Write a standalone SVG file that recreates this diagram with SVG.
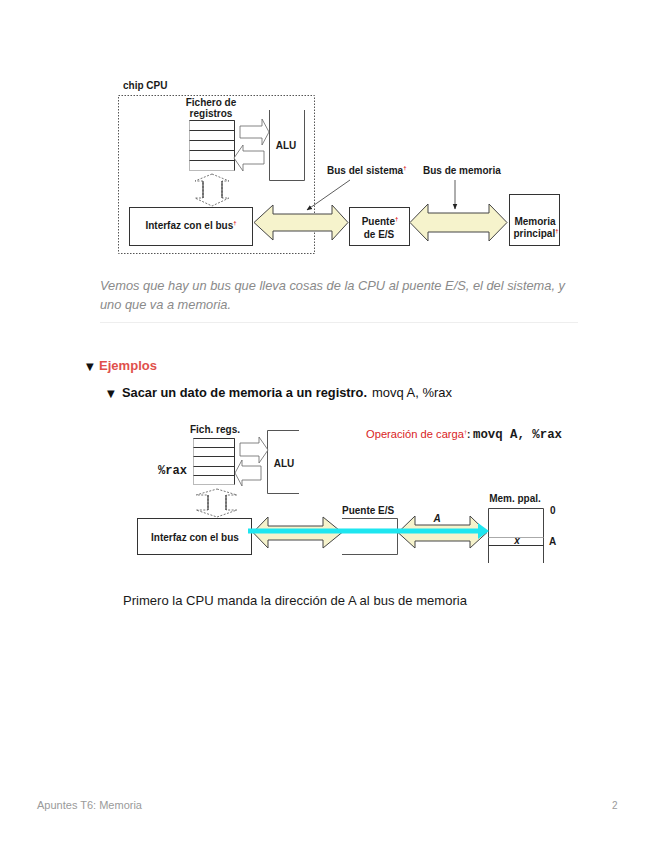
<svg xmlns="http://www.w3.org/2000/svg" width="655" height="848" viewBox="0 0 655 848">
<style>
.lb{font-family:"Liberation Sans",Arial,sans-serif;font-weight:bold;font-size:10px;fill:#1a1a1a}
.mid{text-anchor:middle}
.red{fill:#e02020}
.sup{font-size:6px;fill:#e02020}
.mono{font-family:"Liberation Mono","Courier New",monospace;font-weight:bold;font-size:12px;fill:#1a1a1a}
.box{fill:#fff;stroke:#333;stroke-width:1}
.lbox{fill:none;stroke:#555;stroke-width:1}
.thin{fill:#fff;stroke:#666;stroke-width:0.8}
.big{fill:#f6f3cc;stroke:#444;stroke-width:1}
.page{font-family:"Liberation Sans",Arial,sans-serif}
</style>
<defs>
<marker id="ah" viewBox="0 0 10 10" refX="9" refY="5" markerWidth="7" markerHeight="7" orient="auto">
<path d="M0,1 L10,5 L0,9 z" fill="#222"/>
</marker>
</defs>
<rect width="655" height="848" fill="#fff"/>

<!-- Diagram 1 -->
<g id="chip">
<rect x="118.5" y="95.5" width="196" height="158" fill="none" stroke="#555" stroke-width="1" stroke-dasharray="1.5,1.5"/>
<text class="lb" x="123" y="89" font-size="9.5">chip CPU</text>
</g>
<g id="regfile1">
<text class="lb mid" x="211" y="106" font-size="9.5">Fichero de</text>
<text class="lb mid" x="211" y="117" font-size="9.5">registros</text>
<rect x="189.5" y="120.5" width="45" height="50" fill="#fff" stroke="#aaa" stroke-width="0.8"/>
<path d="M189.5 120.5H234.5M189.5 130.5H234.5M189.5 140.5H234.5M189.5 150.5H234.5M189.5 160.5H234.5M234.5 120.5V170.5" stroke="#333" stroke-width="1" fill="none"/>
</g>
<g id="alu1">
<path d="M269.5 110V180.5H304.5V110" class="lbox"/>
<text class="lb mid" x="286" y="149">ALU</text>
</g>
<g id="interfaz1">
<rect x="129.5" y="207.5" width="123" height="38" class="box" stroke="#555"/>
<text class="lb mid" x="191" y="229" font-size="10.5">Interfaz con el bus<tspan class="sup" dy="-4">†</tspan></text>
</g>
<g id="puente1">
<rect x="349.5" y="207.5" width="60" height="38" class="box"/>
<text class="lb mid" x="380" y="225">Puente<tspan class="sup" dy="-4">†</tspan></text>
<text class="lb mid" x="379" y="238">de E/S</text>
</g>
<g id="memoria1">
<rect x="509.5" y="194.5" width="50" height="51" class="box"/>
<text class="lb mid" x="535" y="225">Memoria</text>
<text class="lb mid" x="536" y="237">principal<tspan class="sup" dy="-4">†</tspan></text>
</g>
<g id="labels1">
<text class="lb" x="327" y="174">Bus del sistema<tspan class="sup" dy="-4">†</tspan></text>
<text class="lb" x="423" y="174">Bus de memoria</text>
</g>
<g id="connectors1">
<polygon class="thin" points="240,126 262,126 262,119 269,132 262,145 262,138 240,138"/>
<polygon class="thin" points="264,151 243,151 243,145 234,158 243,171 243,164 264,164"/>
<polygon points="212,174 229,181 222,181 222,198 229,198 212,206 195,198 203,198 203,181 195,181" fill="#fff" stroke="#555" stroke-width="0.8" stroke-dasharray="2,1.5"/>
<path d="M203 181V198M222 181V198" stroke="#222" stroke-width="1"/>
<polygon class="big" points="254,222.5 273,205 273,214 332,214 332,205 348,222.5 332,240 332,231 273,231 273,240"/>
<polygon class="big" points="410,222.5 428,204 428,213 489,213 489,204 507,222.5 489,241 489,232 428,232 428,241"/>
<line x1="350" y1="180" x2="307" y2="210" stroke="#333" stroke-width="0.8" marker-end="url(#ah)"/>
<line x1="455" y1="180" x2="455" y2="209" stroke="#333" stroke-width="0.8" marker-end="url(#ah)"/>
</g>

<!-- Page text -->
<g class="page">
<text x="100" y="290" font-size="13" font-style="italic" fill="#8a8a8a" textLength="465" lengthAdjust="spacingAndGlyphs">Vemos que hay un bus que lleva cosas de la CPU al puente E/S, el del sistema, y</text>
<text x="100" y="309" font-size="13" font-style="italic" fill="#8a8a8a" textLength="131" lengthAdjust="spacingAndGlyphs">uno que va a memoria.</text>
<line x1="100" y1="322.5" x2="578" y2="322.5" stroke="#eeeeee" stroke-width="1"/>
<text x="86" y="370" font-family="DejaVu Sans,sans-serif" font-size="10" fill="#111">▼</text>
<text x="99" y="370" font-size="13" font-weight="bold" fill="#e0504c" textLength="58" lengthAdjust="spacingAndGlyphs">Ejemplos</text>
<text x="107" y="397" font-family="DejaVu Sans,sans-serif" font-size="10" fill="#111">▼</text>
<text x="122" y="397" font-size="13" fill="#111"><tspan font-weight="bold" textLength="245" lengthAdjust="spacingAndGlyphs">Sacar un dato de memoria a un registro.</tspan><tspan x="372" textLength="80" lengthAdjust="spacingAndGlyphs">movq A, %rax</tspan></text>
<text x="123" y="605" font-size="13" fill="#1a1a1a" textLength="344" lengthAdjust="spacingAndGlyphs">Primero la CPU manda la dirección de A al bus de memoria</text>
<text x="37" y="809" font-size="10" fill="#9a9a9a" textLength="105" lengthAdjust="spacingAndGlyphs">Apuntes T6: Memoria</text>
<text x="612" y="809" font-size="10" fill="#9a9a9a">2</text>
</g>

<!-- Diagram 2 -->
<g id="op2">
<text x="366" y="438" font-family="Liberation Sans,Arial,sans-serif" font-size="11" fill="#d81e1e" textLength="98" lengthAdjust="spacingAndGlyphs">Operación de carga</text>
<text x="464" y="434" class="sup">†</text>
<text x="467" y="438" class="lb">:</text>
<text x="473" y="438" class="mono" textLength="89" lengthAdjust="spacingAndGlyphs">movq A, %rax</text>
</g>
<g id="regfile2">
<text class="lb mid" x="215" y="433">Fich. regs.</text>
<rect x="193.5" y="438.5" width="41" height="46" fill="#fff" stroke="#aaa" stroke-width="0.8"/>
<path d="M193.5 438.5H234.5M193.5 447.5H234.5M193.5 456.5H234.5M193.5 466.5H234.5M193.5 475.5H234.5M234.5 438.5V484.5" stroke="#333" stroke-width="1" fill="none"/>
<text class="mono" x="158" y="474" font-size="11.5" fill="#333" textLength="29" lengthAdjust="spacingAndGlyphs">%rax</text>
</g>
<g id="alu2">
<path d="M299 430.5H267.5V493.5H299" class="lbox"/>
<text class="lb mid" x="284" y="467">ALU</text>
</g>
<g id="interfaz2">
<rect x="137.5" y="518.5" width="114" height="36" class="box" stroke="#555"/>
<text class="lb mid" x="195" y="541" font-size="10.5">Interfaz con el bus</text>
</g>
<g id="puente2">
<text class="lb" x="342" y="514" font-size="10.3">Puente E/S</text>
<path d="M342 518.5H397.5V554.5H342" class="lbox" stroke="#444"/>
</g>
<g id="mem2">
<text class="lb mid" x="515" y="502" font-size="11">Mem. ppal.</text>
<path d="M488.5 563V508.5H543.5V563" fill="none" stroke="#444" stroke-width="1"/>
<path d="M488.5 537.5H543.5" stroke="#aaa" stroke-width="1"/>
<path d="M488.5 545.5H543.5" stroke="#333" stroke-width="1"/>
<text class="lb" x="550" y="514" font-size="10.5">0</text>
<text class="lb" x="549" y="545" font-size="10.5">A</text>
<text class="lb mid" x="517" y="544" font-style="italic" font-size="8.5">x</text>
</g>
<g id="connectors2">
<polygon class="thin" points="240,443 259,443 259,437 268,450 259,463 259,456 240,456"/>
<polygon class="thin" points="261,466 242,466 242,460 235,473 242,486 242,480 261,480"/>
<polygon points="217,489 237,495 226,495 226,510 237,510 217,517 196,510 208,510 208,495 196,495" fill="#fff" stroke="#555" stroke-width="0.8" stroke-dasharray="2,1.5"/>
<path d="M208 495V510M226 495V510" stroke="#222" stroke-width="1"/>
<polygon class="big" points="253,532.5 268,517 268,526 323,526 323,517 342,532.5 323,548 323,540 268,540 268,548"/>
<polygon class="big" points="398,532.5 415,516 415,525 470,525 470,516 487,532.5 470,548 470,541 415,541 415,548"/>
<text class="lb mid" x="437" y="522" font-style="italic" font-size="10.5">A</text>
<line x1="248" y1="531" x2="479" y2="531" stroke="#1ee6f0" stroke-width="5"/>
<polygon points="478,523 489,531 478,539" fill="#1ee6f0"/>
</g>
</svg>
